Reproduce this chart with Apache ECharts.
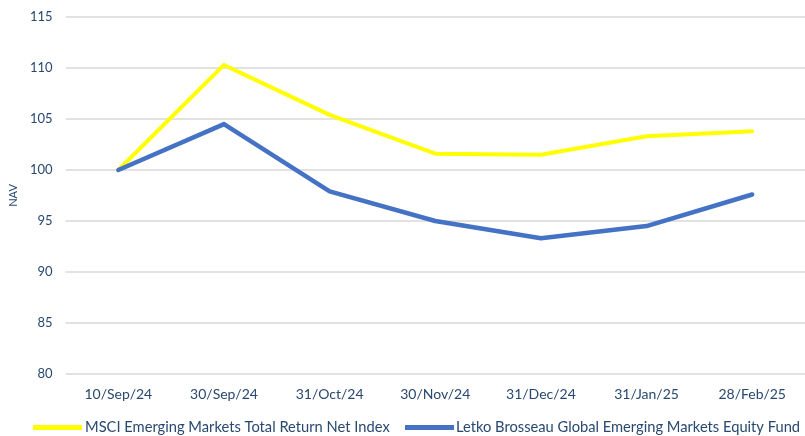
<!DOCTYPE html>
<html>
<head>
<meta charset="utf-8">
<script src="https://cdn.jsdelivr.net/npm/echarts@6/dist/echarts.min.js"></script>
<style>
  html, body { margin: 0; padding: 0; background: #fff; }
  #chart { width: 805px; height: 436px; }
</style>
</head>
<body>
<div id="chart"></div>
<script>
// dates on the x axis
const dates = ['10/Sep/24', '30/Sep/24', '31/Oct/24', '30/Nov/24', '31/Dec/24', '31/Jan/25', '28/Feb/25']
// NAV, rebased to 100
const msciIndex = [100, 110.3, 105.4, 101.6, 101.5, 103.3, 103.8]
const letkoFund = [100, 104.5, 97.9, 95.0, 93.3, 94.5, 97.6]
const seriesNames = ['MSCI Emerging Markets Total Return Net Index', 'Letko Brosseau Global Emerging Markets Equity Fund']

const textColor = '#28486f'
const font = 'Lato'

const myChart = echarts.init(document.getElementById('chart'), null, { renderer: 'canvas' })

const option = {
  animation: false,
  textStyle: { fontFamily: font },
  grid: {
    left: 63,
    top: 17,
    width: 752,
    height: 357
  },
  legend: [{
    data: [seriesNames[0]],
    left: 33,
    top: 420,
    itemWidth: 49,
    itemHeight: 5,
    itemGap: 0,
    padding: 0,
    icon: 'rect',
    textStyle: { color: textColor, fontSize: 14.7, fontFamily: font, padding: [0, 0, 0, -2] }
  }, {
    data: [seriesNames[1]],
    left: 405,
    top: 420,
    itemWidth: 49,
    itemHeight: 5,
    itemGap: 0,
    padding: 0,
    icon: 'rect',
    textStyle: { color: textColor, fontSize: 14.7, fontFamily: font, padding: [0, 0, 0, -3] }
  }],
  xAxis: {
    type: 'category',
    data: dates,
    boundaryGap: true,
    axisLine: { show: false },
    axisTick: { show: false },
    axisLabel: { color: textColor, fontSize: 14, fontFamily: font, margin: 13 }
  },
  yAxis: {
    type: 'value',
    min: 80,
    max: 115,
    interval: 5,
    name: 'NAV',
    nameLocation: 'middle',
    nameRotate: 90,
    nameGap: 46,
    nameTextStyle: { color: textColor, fontSize: 11, fontFamily: font },
    axisLine: { show: false },
    axisTick: { show: false },
    axisLabel: { color: textColor, fontSize: 13, fontFamily: font, margin: 13 },
    splitLine: { lineStyle: { color: '#d9d9d9', width: 1.5 } }
  },
  series: [
    {
      name: seriesNames[0],
      type: 'line',
      data: msciIndex,
      symbol: 'none',
      color: '#ffff00',
      lineStyle: { width: 4, color: '#ffff00', cap: 'round', join: 'round' }
    },
    {
      name: seriesNames[1],
      type: 'line',
      data: letkoFund,
      symbol: 'none',
      color: '#4472c4',
      lineStyle: { width: 4.5, color: '#4472c4', cap: 'round', join: 'round' }
    }
  ]
}

myChart.setOption(option)
</script>
</body>
</html>
